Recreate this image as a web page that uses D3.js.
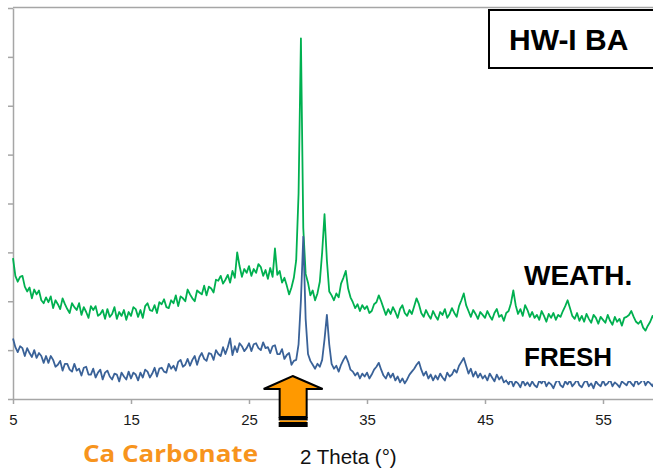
<!DOCTYPE html>
<html>
<head>
<meta charset="utf-8">
<script src="https://cdn.jsdelivr.net/npm/d3@7"></script>
<style>
  html, body { margin: 0; padding: 0; background: #fff; }
  svg { display: block; }
</style>
</head>
<body>
<svg id="chart" width="653" height="469"></svg>
<script>
// XRD scan grid (degrees 2-theta)
const scanStart = 5;
const scanStep = 0.2;

// Weathered bottom ash pattern, intensity (a.u.), one value per scan step from 5° to 60°
const weathered = [
  144,126,120,125,126,115,110,114,103,112,
  107,111,101,98,104,99,105,93,101,97,
  92,103,97,92,88,98,94,91,98,86,
  94,89,83,95,91,95,85,87,91,82,
  92,84,87,94,82,89,85,91,81,89,
  85,94,92,84,91,83,95,98,91,90,
  96,88,99,97,102,94,93,101,98,106,
  95,105,103,100,112,107,103,100,111,109,
  107,116,106,115,113,109,122,121,126,118,
  122,127,119,131,124,150,136,125,133,129,
  136,126,133,129,138,135,126,132,123,134,
  125,154,127,131,119,124,116,107,114,124,
  142,210,369,175,128,119,106,111,101,108,
  120,150,189,142,110,106,101,108,104,118,
  124,131,113,104,99,93,97,90,96,92,
  95,88,90,97,99,106,100,93,86,92,
  87,94,89,83,92,96,88,85,91,87,
  95,103,97,88,84,91,86,82,90,85,
  81,89,86,92,83,87,93,88,84,95,
  101,108,96,90,84,91,87,82,89,86,
  83,90,85,81,88,92,84,86,80,88,
  90,98,111,96,87,92,85,96,91,84,
  89,83,86,81,90,85,79,87,83,88,
  81,86,84,90,95,101,93,85,82,88,
  80,85,79,87,82,78,86,83,77,84,
  81,78,86,80,76,84,79,82,75,83,
  84,86,90,84,79,77,80,73,70,75,
  79,85,81,86,84,87
];

// Fresh bottom ash pattern, intensity (a.u.), same scan grid
const fresh = [
  62,53,48,54,52,44,52,47,43,50,
  42,47,44,37,44,37,44,40,33,35,
  39,29,36,36,30,28,36,29,31,24,
  32,33,25,25,31,22,27,30,20,27,
  29,23,20,26,25,18,27,23,20,28,
  21,27,25,19,27,22,30,28,22,26,
  32,23,31,32,28,27,36,31,34,29,
  38,40,33,35,41,34,40,44,35,43,
  47,41,39,47,46,40,50,46,44,53,
  46,53,62,45,54,48,57,54,49,52,
  57,49,56,57,52,50,58,52,53,47,
  54,55,46,46,51,41,45,47,35,39,
  40,56,101,166,82,46,39,35,31,36,
  33,40,61,86,56,36,31,34,28,35,
  40,44,38,30,28,24,27,21,26,23,
  27,21,25,30,33,37,30,24,21,27,
  22,26,19,23,17,21,16,20,25,28,
  31,35,38,30,24,28,21,25,19,24,
  20,26,22,19,27,23,25,30,27,34,
  38,42,34,26,31,23,28,22,26,21,
  24,19,26,22,18,25,20,23,17,19,
  15,20,13,18,16,12,19,14,17,13,
  18,14,12,19,16,20,13,17,15,11,
  17,20,14,12,18,15,19,13,16,20,
  14,12,17,19,13,16,11,18,15,13,
  19,14,16,20,13,17,15,12,18,16,
  14,19,16,13,20,15,17,21,14,18,
  16,13,19,21,15,17
];

const xTicks = [5, 15, 25, 35, 45, 55];
const yTicks = [0, 50, 100, 150, 200, 250, 300, 350, 400];
const seriesNames = ["WEATH.", "FRESH"];
const sampleName = "HW-I BA";
const xTitle = "2 Theta (°)";
const markerLabel = "Ca Carbonate";
const markerAngle = 28.7;

const svg = d3.select("#chart");
const W = 653, H = 469;

const x = d3.scaleLinear().domain([5, 60]).range([13, 662]);
const y = d3.scaleLinear().domain([0, 400]).range([399, 8]);

const axisGrey = "#a6a6a6";
const angles = weathered.map((_, i) => +(scanStart + i * scanStep).toFixed(2));

// Plot frame: top edge
svg.append("line")
  .attr("x1", x(5)).attr("x2", W)
  .attr("y1", y(400) - 0.5).attr("y2", y(400) - 0.5)
  .attr("stroke", axisGrey).attr("stroke-width", 1.5);

// Y axis (unlabelled intensity ticks)
const yAxis = svg.append("g")
  .attr("transform", `translate(${x(5)},0)`)
  .call(d3.axisLeft(y).tickValues(yTicks).tickSize(5).tickSizeOuter(0).tickFormat(""));
yAxis.selectAll("path, line").attr("stroke", axisGrey).attr("stroke-width", 1.5);

// X axis
const xAxis = svg.append("g")
  .attr("transform", `translate(0,${y(0)})`)
  .call(d3.axisBottom(x).tickValues(xTicks).tickSize(5).tickSizeOuter(0).tickFormat(d3.format("d")));
xAxis.selectAll("path, line").attr("stroke", axisGrey).attr("stroke-width", 1.5);
xAxis.selectAll("text")
  .attr("y", 15)
  .attr("fill", "#1a1a1a")
  .style("font-family", "'Liberation Sans', Arial, sans-serif")
  .style("font-size", "15px");

// Diffraction patterns
const line = d3.line()
  .x((d, i) => x(angles[i]))
  .y(d => y(d));

const plot = svg.append("g");
plot.append("path")
  .datum(weathered)
  .attr("d", line)
  .attr("fill", "none")
  .attr("stroke", "#00b050")
  .attr("stroke-width", 1.8)
  .attr("stroke-linejoin", "round");
plot.append("path")
  .datum(fresh)
  .attr("d", line)
  .attr("fill", "none")
  .attr("stroke", "#3a6298")
  .attr("stroke-width", 1.8)
  .attr("stroke-linejoin", "round");

// Series labels (the FRESH label sits on a white text box)
svg.append("rect")
  .attr("x", 507).attr("y", 338)
  .attr("width", W - 507).attr("height", 43)
  .attr("fill", "#fff");

const labelFont = "'Liberation Sans', Arial, sans-serif";
svg.append("text")
  .attr("x", 524).attr("y", 285)
  .attr("font-family", labelFont).attr("font-weight", "bold").attr("font-size", 28)
  .attr("fill", "#000")
  .text(seriesNames[0]);
svg.append("text")
  .attr("x", 524).attr("y", 366)
  .attr("font-family", labelFont).attr("font-weight", "bold").attr("font-size", 26)
  .attr("fill", "#000")
  .text(seriesNames[1]);

// Sample name box
svg.append("rect")
  .attr("x", 489).attr("y", 10)
  .attr("width", 180).attr("height", 58)
  .attr("fill", "#fff").attr("stroke", "#000").attr("stroke-width", 2);
svg.append("text")
  .attr("x", 509).attr("y", 50)
  .attr("font-family", labelFont).attr("font-weight", "bold").attr("font-size", 30)
  .attr("fill", "#000")
  .text(sampleName);

// Axis title
svg.append("text")
  .attr("x", 300).attr("y", 464)
  .attr("font-family", labelFont).attr("font-size", 20.5)
  .attr("fill", "#111")
  .text(xTitle);

// Carbonate marker arrow
const ax = x(markerAngle);
const tipY = 376, headY = 389, baseY = 417;
const arrow = svg.append("g");
arrow.append("path")
  .attr("d", [
    [ax, tipY], [ax + 30, headY], [ax + 14, headY], [ax + 14, baseY],
    [ax - 13, baseY], [ax - 13, headY], [ax - 29, headY]
  ].map((p, i) => (i ? "L" : "M") + p[0] + "," + p[1]).join("") + "Z")
  .attr("fill", "#ff9900").attr("stroke", "#000").attr("stroke-width", 2)
  .attr("stroke-linejoin", "miter");
arrow.append("rect")
  .attr("x", ax - 14).attr("y", baseY).attr("width", 29).attr("height", 3.5)
  .attr("fill", "#000");
arrow.append("rect")
  .attr("x", ax - 13).attr("y", baseY + 3.5).attr("width", 27).attr("height", 1.5)
  .attr("fill", "#ff9900");
arrow.append("rect")
  .attr("x", ax - 14).attr("y", baseY + 5).attr("width", 29).attr("height", 5)
  .attr("fill", "#000");

svg.append("text")
  .attr("x", 83).attr("y", 462)
  .attr("font-family", "'Open Sans', sans-serif").attr("font-weight", 700).attr("font-size", 24)
  .attr("textLength", 175).attr("lengthAdjust", "spacingAndGlyphs")
  .attr("fill", "#f7941d")
  .text(markerLabel);
</script>
</body>
</html>
